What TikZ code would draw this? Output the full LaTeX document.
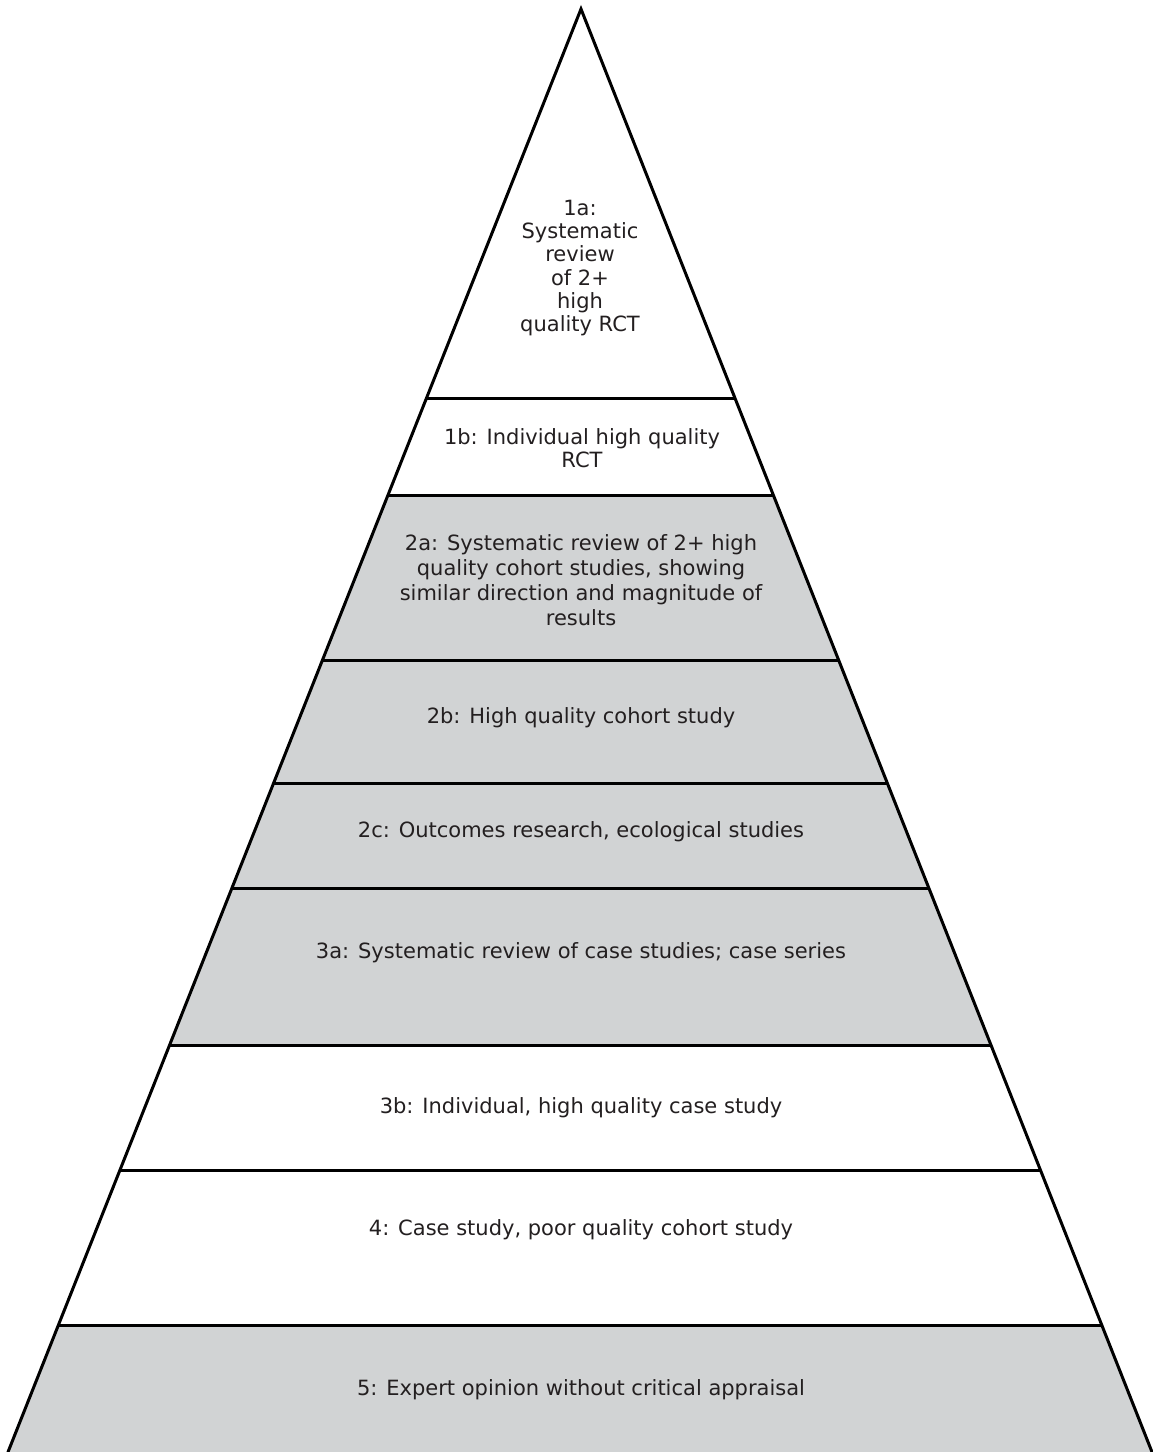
\documentclass[tikz,border=0pt]{standalone}
\usepackage{fontspec}
\setmainfont{DejaVu Sans}
\usetikzlibrary{calc}
\definecolor{bandgray}{HTML}{D1D3D4}
\definecolor{txt}{HTML}{231F20}
\tikzset{
  edge/.style={line width=3pt, black, line cap=round, line join=miter},
  sep/.style={line width=3pt, black},
  lbl/.style={align=center, text=txt, font=\fontsize{21}{25}\selectfont, inner sep=0pt},
  tight/.style={font=\fontsize{21}{23.2}\selectfont},
}
\begin{document}
\begin{tikzpicture}[x=1pt,y=-1pt]
\useasboundingbox (0,0) rectangle (1153,1452);
\coordinate (A) at (581,9);
\coordinate (BL) at (8,1452);
\coordinate (BR) at (1152,1452);
\foreach \n/\y in {1/398,2/496,3/660,4/783,5/888,6/1046,7/1170,8/1325}{
  \coordinate (L\n) at ($(A)!{(\y-9)/1443}!(BL)$);
  \coordinate (R\n) at ($(A)!{(\y-9)/1443}!(BR)$);
}
% grey bands
\fill[bandgray] (L2) -- (R2) -- (R6) -- (L6) -- cycle;
\fill[bandgray] (L8) -- (R8) -- (BR) -- (BL) -- cycle;
% outline
\draw[edge] (BL) -- (A) -- (BR);
\foreach \n in {1,...,8}{ \draw[sep] (L\n) -- (R\n); }
% labels
\node[lbl,tight] (t1a) at (580,268) {1a:\\Systematic\\review\\of 2+\\high\\quality RCT};
\node[lbl,tight] (t1b) at (582,448) {1b: Individual high quality\\RCT};
\node[lbl] (t2a) at (581,580) {2a: Systematic review of 2+ high\\quality cohort studies, showing\\similar direction and magnitude of\\results};
\node[lbl] (t2b) at (581,718) {2b: High quality cohort study};
\node[lbl] (t2c) at (581,832) {2c: Outcomes research, ecological studies};
\node[lbl] (t3a) at (581,953) {3a: Systematic review of case studies; case series};
\node[lbl] (t3b) at (581,1108) {3b: Individual, high quality case study};
\node[lbl] (t4) at (581,1230) {4: Case study, poor quality cohort study};
\node[lbl] (t5) at (581,1390) {5: Expert opinion without critical appraisal};
\end{tikzpicture}
\end{document}
